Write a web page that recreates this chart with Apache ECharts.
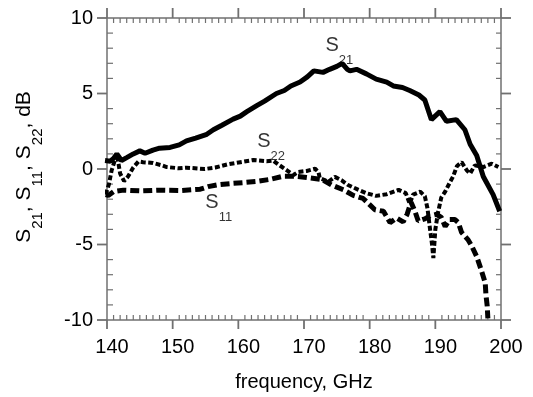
<!DOCTYPE html>
<html><head><meta charset="utf-8">
<script src="https://cdn.jsdelivr.net/npm/echarts@6/dist/echarts.min.js"></script>
<style>html,body{margin:0;padding:0;background:#fff}#c{width:533px;height:397px}</style>
</head><body><div id="c"></div>
<script>
// ---- data ----
const xTicks = [140, 150, 160, 170, 180, 190, 200];
const yTicks = [-10, -5, 0, 5, 10];
const xMinorPerMajor = 10;
const yMinorPerMajor = 5;

const s21Freq = [139.7,140.5,141.0,141.5,142.2,143.0,144.0,145.0,145.8,147.0,148.0,149.6,151.0,152.1,153.5,155.2,156.2,157.5,159.2,160.3,161.3,162.8,164.0,165.8,167.0,168.0,169.4,170.5,171.5,172.9,173.9,175.0,175.8,176.6,177.0,178.0,179.5,181.0,182.6,183.6,185.0,186.1,187.5,188.4,189.4,190.7,191.7,193.2,194.5,195.3,196.3,197.3,198.8,199.8];
const s21Db   = [0.56,0.52,0.7,1.0,0.56,0.75,1.0,1.2,1.04,1.25,1.38,1.43,1.6,1.86,2.05,2.3,2.6,2.9,3.3,3.5,3.8,4.2,4.5,5.0,5.2,5.5,5.76,6.1,6.5,6.4,6.6,6.8,7.0,6.6,6.5,6.6,6.3,5.95,5.75,5.5,5.4,5.2,4.9,4.57,3.27,3.8,3.16,3.27,2.6,1.64,0.9,-0.5,-1.7,-2.8];

const s22Freq = [139.8,140.3,140.7,141.5,142.0,142.6,143.2,144.0,144.8,145.5,147.0,148.3,149.1,150.9,152.1,154.9,156.5,158.3,160.3,162.3,164.3,165.3,166.3,167.4,168.4,169.1,170.4,171.7,172.2,172.4,173.7,174.7,175.7,176.7,178.3,179.5,181.0,182.6,184.4,185.5,186.1,186.6,187.7,188.4,188.8,189.2,189.5,189.7,190.0,190.4,190.9,191.5,192.2,192.7,193.3,194.0,194.8,195.3,196.0,197.3,198.6,199.6];
const s22Db   = [-1.7,-1.0,-0.1,1.0,-0.3,-0.8,-0.5,0.1,0.5,0.45,0.4,0.25,0.13,0.05,0.09,0.0,0.1,0.3,0.45,0.6,0.52,0.56,0.24,-0.09,-0.4,-0.2,-0.13,0.02,-0.2,-0.6,-0.84,-0.52,-0.74,-1.06,-1.38,-1.6,-1.78,-1.67,-1.38,-1.6,-2.3,-1.7,-1.5,-1.8,-2.6,-4.0,-5.0,-5.9,-4.0,-2.9,-1.9,-1.5,-0.9,-0.5,0.2,0.45,-0.09,-0.3,0.24,0.13,0.35,0.13];

const s11Freq = [139.8,140.2,141.0,142.5,145.0,148.0,151.1,154.2,155.4,156.7,159.2,160.8,162.8,164.8,166.8,168.6,170.4,172.7,174.2,176.0,177.5,179.0,180.8,182.1,183.1,184.1,185.1,185.7,186.3,186.9,187.4,188.4,189.2,190.2,190.9,191.5,192.2,193.0,193.5,194.0,195.0,195.5,196.3,197.0,197.6,197.7,197.9,198.0];
const s11Db   = [-1.7,-1.75,-1.5,-1.4,-1.45,-1.4,-1.43,-1.34,-1.17,-1.06,-0.95,-0.9,-0.82,-0.69,-0.48,-0.48,-0.56,-0.69,-1.06,-1.38,-1.75,-1.95,-2.7,-2.8,-3.55,-3.25,-3.5,-3.0,-2.2,-2.8,-3.44,-3.3,-3.1,-3.0,-3.2,-3.8,-3.35,-3.35,-3.55,-4.2,-4.7,-5.06,-5.8,-6.7,-7.55,-8.3,-9.07,-9.9];

const annSub  = ['21', '22', '11'];
const annFreq = [173.2, 162.8, 154.9];
const annDb   = [8.2, 1.8, -2.2];

// ---- chart ----
const FONT = '"Liberation Sans", Arial, Helvetica, sans-serif';
const GREY = '#707070';
const zip = (a, b) => a.map((v, i) => [v, b[i]]);
const labelStyle = { fontSize: 20, color: '#000', fontFamily: FONT };

const xMin = xTicks[0], xMax = xTicks[xTicks.length - 1];
const yMin = yTicks[0], yMax = yTicks[yTicks.length - 1];

// tick list: [value, side(0 bottom,1 top,2 left,3 right), major(1)/minor(0)]
const tickItems = [];
function addTicks(ticks, nMinor, sides) {
  for (let i = 0; i < ticks.length; i++) {
    sides.forEach(s => tickItems.push([ticks[i], s, 1]));
    if (i < ticks.length - 1) {
      const step = (ticks[i + 1] - ticks[i]) / nMinor;
      for (let k = 1; k < nMinor; k++) sides.forEach(s => tickItems.push([ticks[i] + k * step, s, 0]));
    }
  }
}
addTicks(xTicks, xMinorPerMajor, [0, 1]);
addTicks(yTicks, yMinorPerMajor, [2, 3]);

// [outward major length, inward minor length] per side
const TICK_LEN = { 0: [9, 5], 1: [10, 5], 2: [10, 6], 3: [10, 5] };

function renderTick(params, api) {
  const v = api.value(0), side = api.value(1), major = api.value(2);
  let p, dir;
  if (side === 0) { p = api.coord([v, yMin]); dir = [0, 1]; }
  else if (side === 1) { p = api.coord([v, yMax]); dir = [0, -1]; }
  else if (side === 2) { p = api.coord([xMin, v]); dir = [-1, 0]; }
  else { p = api.coord([xMax, v]); dir = [1, 0]; }
  const len = major ? TICK_LEN[side][0] : -TICK_LEN[side][1];
  return {
    type: 'line',
    shape: { x1: p[0], y1: p[1], x2: p[0] + dir[0] * len, y2: p[1] + dir[1] * len },
    style: { stroke: GREY, lineWidth: major ? 1.8 : 1.2 }
  };
}

function frameAxis(min, max, interval, position, label) {
  return {
    type: 'value', min: min, max: max, interval: interval, gridIndex: 0, position: position,
    splitLine: { show: false },
    axisLine: { show: true, onZero: false, lineStyle: { color: GREY, width: 1.5 } },
    axisTick: { show: false },
    minorTick: { show: false },
    axisLabel: label || { show: false }
  };
}

const chart = echarts.init(document.getElementById('c'), null, { renderer: 'canvas' });
chart.setOption({
  animation: false,
  backgroundColor: '#fff',
  grid: { left: 107, right: 32, top: 18, bottom: 71, containLabel: false },
  xAxis: [
    Object.assign(frameAxis(xMin, xMax, 10, 'bottom',
      Object.assign({ margin: 17, padding: [0, 0, 0, 10] }, labelStyle)), {
      name: 'frequency, GHz', nameLocation: 'middle', nameGap: 52, nameTextStyle: labelStyle
    }),
    frameAxis(xMin, xMax, 10, 'top')
  ],
  yAxis: [
    frameAxis(yMin, yMax, 5, 'left', Object.assign({ margin: 14 }, labelStyle)),
    frameAxis(yMin, yMax, 5, 'right')
  ],
  graphic: [{
    type: 'text', x: 24, y: 167, rotation: Math.PI / 2,
    style: {
      text: '{m|S}{s|21}{m|, S}{s|11}{m|, S}{s|22}{m|, dB}',
      align: 'center', verticalAlign: 'middle', fill: '#000',
      fontFamily: FONT, fontSize: 21,
      rich: {
        m: { fontSize: 21, fontFamily: FONT, fill: '#000' },
        s: { fontSize: 15, fontFamily: FONT, fill: '#000', padding: [28, 0, 0, 0] }
      }
    }
  }],
  series: [
    { name: 'ticks', type: 'custom', data: tickItems, renderItem: renderTick, clip: false, silent: true, z: 1 },
    { name: 'frame', type: 'line', xAxisIndex: 1, yAxisIndex: 1, data: [], silent: true },
    { name: 'S21', type: 'line', data: zip(s21Freq, s21Db), symbol: 'none', clip: false,
      lineStyle: { color: '#000', width: 5 }, z: 3 },
    { name: 'S22', type: 'line', data: zip(s22Freq, s22Db), symbol: 'none', clip: false,
      lineStyle: { color: '#000', width: 4, type: [5, 2.5] }, z: 2 },
    { name: 'S11', type: 'line', data: zip(s11Freq, s11Db), symbol: 'none', clip: false,
      lineStyle: { color: '#000', width: 5, type: [9, 4] }, z: 2 },
    { name: 'labels', type: 'scatter', data: zip(annFreq, annDb), symbolSize: 1, clip: false,
      itemStyle: { color: 'rgba(0,0,0,0)' },
      label: {
        show: true, position: 'right', distance: 0,
        formatter: p => '{m|S}{s|' + annSub[p.dataIndex] + '}',
        rich: {
          m: { fontSize: 20, fontFamily: FONT, color: '#000' },
          s: { fontSize: 13, fontFamily: FONT, color: '#000', padding: [30, 0, 0, 0] }
        }
      }, z: 5 }
  ]
});
</script></body></html>
